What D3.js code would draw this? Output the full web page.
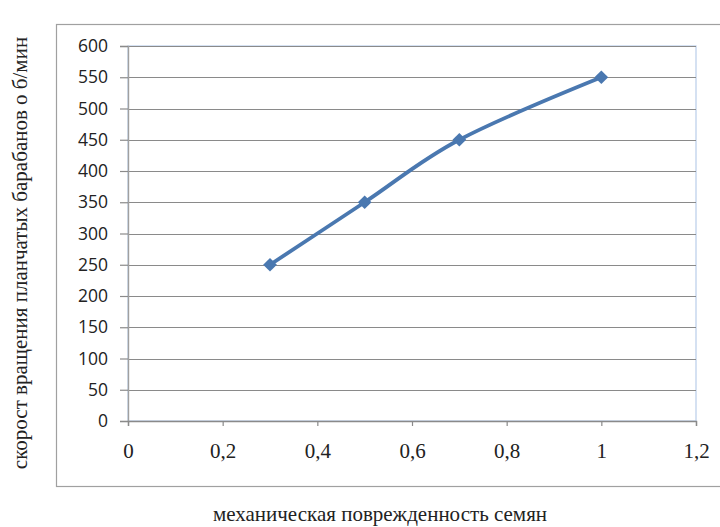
<!DOCTYPE html>
<html>
<head>
<meta charset="utf-8">
<script src="https://cdn.jsdelivr.net/npm/d3@7"></script>
<style>
  html, body { margin: 0; padding: 0; background: #fff; }
  svg { display: block; }
</style>
</head>
<body>
<svg id="chart" width="720" height="527"></svg>
<script>
// Damage level of seeds vs. drum rotation speed
const damage = [0.3, 0.5, 0.7, 1.0];
const speed = [250, 350, 450, 550];
const xTicks = [0, 0.2, 0.4, 0.6, 0.8, 1.0, 1.2];
const yTicks = [0, 50, 100, 150, 200, 250, 300, 350, 400, 450, 500, 550, 600];
const xTitle = "механическая поврежденность семян";
const yTitle = "скорост  вращения планчатых барабанов о б/мин";

const svg = d3.select("#chart");
const plot = { left: 128, right: 696, top: 46, bottom: 421 };

const x = d3.scaleLinear().domain([0, 1.2]).range([plot.left, plot.right]);
const y = d3.scaleLinear().domain([0, 600]).range([plot.bottom, plot.top]);

// outer chart frame (runs past the right edge)
svg.append("rect")
  .attr("x", 56.5).attr("y", 24.5)
  .attr("width", 700).attr("height", 462)
  .attr("fill", "none").attr("stroke", "#a0a0a0").attr("stroke-width", 1.2);

// plot area border
svg.append("rect")
  .attr("x", plot.left).attr("y", plot.top)
  .attr("width", plot.right - plot.left).attr("height", plot.bottom - plot.top)
  .attr("fill", "none").attr("stroke", "#b9cdea").attr("stroke-width", 1.2);

// horizontal gridlines
svg.append("g").selectAll("line").data(yTicks.filter(d => d > 0)).join("line")
  .attr("x1", plot.left).attr("x2", plot.right)
  .attr("y1", d => Math.round(y(d)) + 0.5).attr("y2", d => Math.round(y(d)) + 0.5)
  .attr("stroke", "#8a8a8a").attr("stroke-width", 1.2);

// y axis
const yAxis = svg.append("g")
  .attr("transform", `translate(${plot.left},0)`)
  .call(d3.axisLeft(y).tickValues(yTicks).tickSize(8).tickPadding(12).tickFormat(d3.format("d")));
yAxis.select(".domain").attr("stroke", "#a0a0a0").attr("stroke-width", 1.4);
yAxis.selectAll(".tick line").attr("stroke", "#8a8a8a").attr("stroke-width", 1.2);
yAxis.selectAll(".tick text")
  .attr("font-family", "'Open Sans', 'Liberation Sans', sans-serif")
  .attr("font-size", 17.5).attr("fill", "#222");

// x axis
const xAxis = svg.append("g")
  .attr("transform", `translate(0,${plot.bottom})`)
  .call(d3.axisBottom(x).tickValues(xTicks).tickSize(5).tickPadding(17)
    .tickFormat(d => String(+d.toFixed(1)).replace(".", ",")));
xAxis.select(".domain").attr("stroke", "#8a8a8a").attr("stroke-width", 1.4);
xAxis.selectAll(".tick line").attr("stroke", "#8a8a8a").attr("stroke-width", 1.2);
xAxis.selectAll(".tick text")
  .attr("font-family", "'Liberation Serif', 'DejaVu Serif', serif")
  .attr("font-size", 21).attr("fill", "#222");

// smoothed series line
const pts = damage.map((d, i) => [d, speed[i]]);
const line = d3.line().x(d => x(d[0])).y(d => y(d[1])).curve(d3.curveCardinal.tension(0));
svg.append("path")
  .datum(pts)
  .attr("d", line)
  .attr("fill", "none").attr("stroke", "#4a78b0").attr("stroke-width", 3.8)
  .attr("stroke-linejoin", "round");

// diamond markers
svg.append("g").selectAll("path").data(pts).join("path")
  .attr("transform", d => `translate(${x(d[0])},${y(d[1])})`)
  .attr("d", d3.symbol().type(d3.symbolDiamond2).size(120))
  .attr("fill", "#4a78b0");

// axis titles
svg.append("text")
  .attr("x", 380).attr("y", 521)
  .attr("text-anchor", "middle")
  .attr("font-family", "'Liberation Serif', 'DejaVu Serif', serif")
  .attr("font-size", 21).attr("fill", "#222")
  .text(xTitle);

svg.append("text")
  .attr("transform", "translate(27,253) rotate(-90)")
  .attr("text-anchor", "middle")
  .attr("font-family", "'Liberation Serif', 'DejaVu Serif', serif")
  .attr("font-size", 21).attr("fill", "#222")
  .text(yTitle);
</script>
</body>
</html>
